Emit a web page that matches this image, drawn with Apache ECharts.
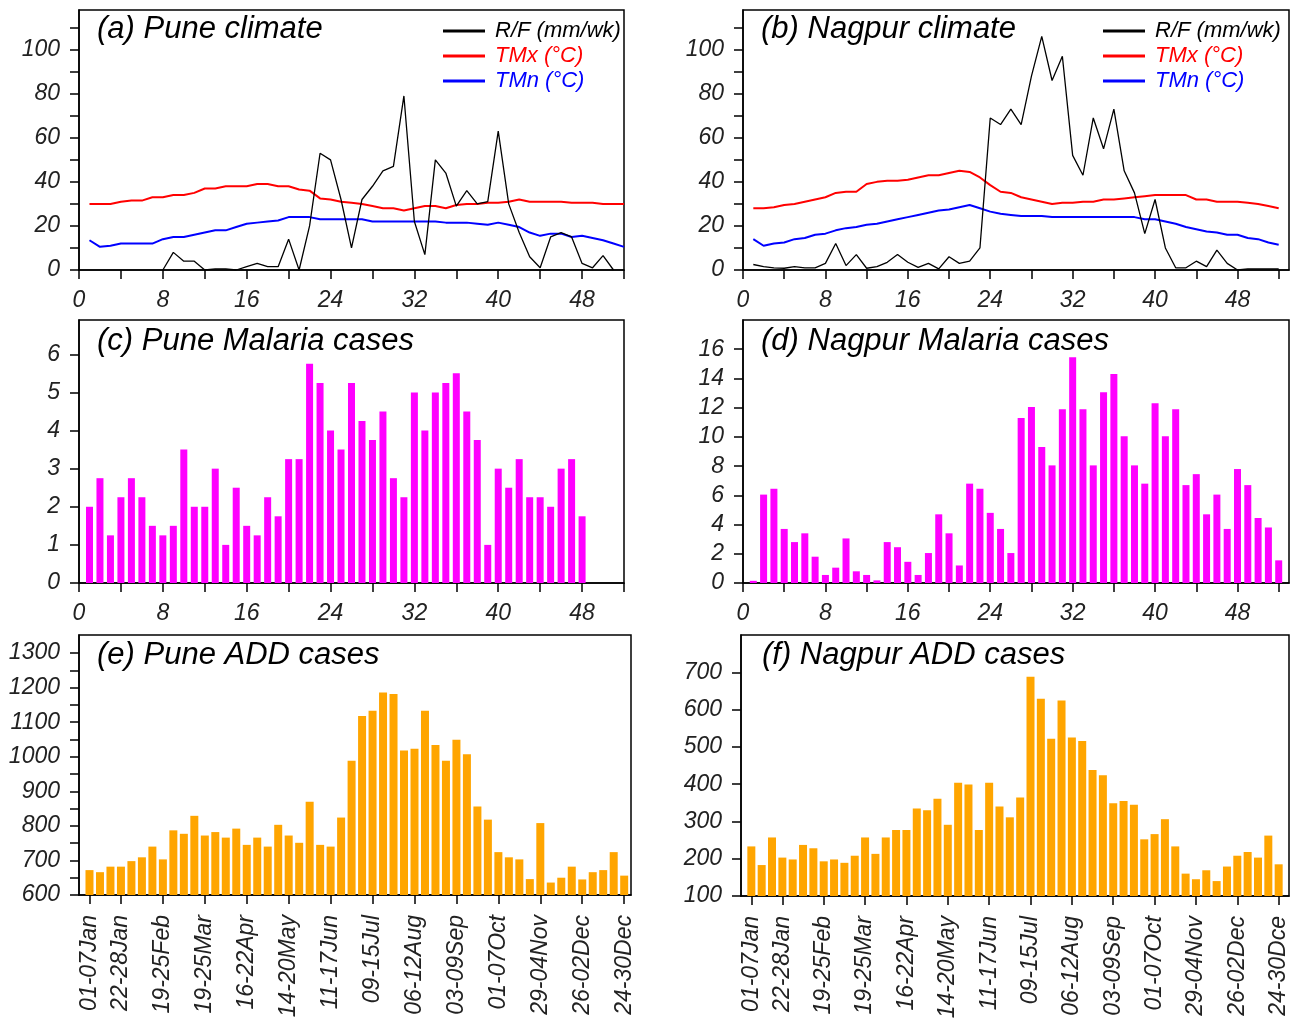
<!DOCTYPE html>
<html>
<head>
<meta charset="utf-8">
<script src="https://cdn.jsdelivr.net/npm/echarts@6/dist/echarts.min.js"></script>
<style>
  html, body { margin: 0; padding: 0; background: #fff; }
  #chart { width: 1308px; height: 1023px; }
</style>
</head>
<body>
<div id="chart"></div>
<script>
// Week numbers of the year (x positions of every mark)
const weeks = Array.from({ length: 52 }, (_, i) => i + 1);

// Weekly rainfall (mm/wk) and temperatures (°C)
const rainPune = [null, null, null, null, null, null, null, 0, 8, 4, 4, 0, 0.5, 0.5, 0, 1.5, 3, 1.5, 1.5, 14,
  0, 20, 53, 50, 32, 10, 32, 38, 45, 47, 79, 22, 7, 50, 44, 29, 36, 30, 31, 63,
  30, 17, 6, 1, 15, 17, 15, 3, 1, 6.5, 0, null];
const tmxPune = [30, 30, 30, 31, 31.5, 31.5, 33, 33, 34, 34, 35, 37, 37, 38, 38, 38, 39, 39, 38, 38,
  36.5, 36, 32.5, 32, 31, 30.5, 30, 29, 28, 28, 27, 28, 29, 29, 28, 29.5, 30, 30, 30.5, 30.5,
  31, 32, 31, 31, 31, 31, 30.5, 30.5, 30.5, 30, 30, 30];
const tmnPune = [13.5, 10.5, 11, 12, 12, 12, 12, 14, 15, 15, 16, 17, 18, 18, 19.5, 21, 21.5, 22, 22.5, 24,
  24, 24, 23, 23, 23, 23, 23, 22, 22, 22, 22, 22, 22, 22, 21.5, 21.5, 21.5, 21, 20.5, 21.5,
  20.5, 19.5, 17, 15.5, 16.5, 16.5, 15, 15.5, 14.5, 13.5, 12, 10.5];

const rainNagpur = [2.5, 1.5, 1, 0.8, 1.5, 1, 1, 3, 12, 2, 7, 0.8, 1.5, 3.5, 7, 3.5, 1.2, 3, 0.5, 6,
  3, 4, 10, 69, 66, 73, 66, 88, 106, 86, 97, 52, 43, 69, 55, 73, 45, 35, 16.5, 32,
  10, 1, 1, 4, 1.5, 9, 3, 0, 0.5, 0.5, 0.5, 0.5];
const tmxNagpur = [28, 28, 28.5, 29.5, 30, 31, 32, 33, 35, 35.5, 35.5, 39, 40, 40.5, 40.5, 41, 42, 43, 43, 44,
  45, 44.5, 42, 38.5, 35.5, 35, 33, 32, 31, 30, 30.5, 30.5, 31, 31, 32, 32, 32.5, 33, 33.5, 34,
  34, 34, 34, 32, 32, 31, 31, 31, 30.5, 30, 29, 28];
const tmnNagpur = [14, 11, 12, 12.5, 14, 14.5, 16, 16.5, 18, 19, 19.5, 20.5, 21, 22, 23, 24, 25, 26, 27, 27.5,
  28.5, 29.5, 28, 26.5, 25.5, 25, 24.5, 24.5, 24.5, 24, 24, 24, 24, 24, 24, 24, 24, 24, 23, 23,
  22, 21, 19.5, 18.5, 17.5, 17, 16, 16, 14.5, 14, 12.5, 11.5];

// Weekly malaria cases
const malariaPune = [2, 2.75, 1.25, 2.25, 2.75, 2.25, 1.5, 1.25, 1.5, 3.5, 2, 2, 3, 1, 2.5, 1.5, 1.25, 2.25, 1.75, 3.25,
  3.25, 5.75, 5.25, 4, 3.5, 5.25, 4.25, 3.75, 4.5, 2.75, 2.25, 5, 4, 5, 5.25, 5.5, 4.5, 3.75, 1, 3,
  2.5, 3.25, 2.25, 2.25, 2, 3, 3.25, 1.75];
const malariaNagpur = [0.15, 6.05, 6.45, 3.7, 2.8, 3.4, 1.8, 0.55, 1.05, 3.05, 0.8, 0.55, 0.18, 2.8, 2.45, 1.45, 0.55, 2.05, 4.7, 3.4,
  1.2, 6.8, 6.45, 4.8, 3.7, 2.05, 11.3, 12.05, 9.3, 8.05, 11.9, 15.45, 11.9, 8.05, 13.05, 14.3, 10.05, 8.05, 6.8, 12.3,
  10.05, 11.9, 6.7, 7.45, 4.7, 6.05, 3.7, 7.8, 6.7, 4.45, 3.8, 1.55];

// Weekly acute diarrhoeal disease (ADD) cases
const addPune = [672, 666, 682, 682, 698, 709, 740, 703, 787, 777, 829, 772, 782, 766, 792, 745, 766, 740, 803, 772,
  751, 870, 745, 740, 824, 988, 1118, 1133, 1186, 1181, 1018, 1023, 1133, 1034, 988, 1049, 1007, 856, 818, 724,
  709, 703, 646, 808, 636, 650, 682, 645, 666, 672, 724, 656];
const addNagpur = [233, 183, 257, 203, 198, 237, 228, 193, 198, 189, 208, 257, 213, 257, 277, 277, 335, 330, 361, 291,
  404, 399, 277, 404, 340, 311, 364, 688, 629, 522, 624, 525, 516, 438, 424, 349, 355, 345, 252, 266,
  306, 233, 160, 145, 169, 140, 179, 208, 218, 203, 262, 185];

// Date labels for the ADD panels
const dateWeeks = [1, 4, 8, 12, 16, 20, 24, 28, 32, 36, 40, 44, 48, 52];
const datesPune = ['01-07Jan', '22-28Jan', '19-25Feb', '19-25Mar', '16-22Apr', '14-20May', '11-17Jun',
  '09-15Jul', '06-12Aug', '03-09Sep', '01-07Oct', '29-04Nov', '26-02Dec', '24-30Dec'];
const datesNagpur = ['01-07Jan', '22-28Jan', '19-25Feb', '19-25Mar', '16-22Apr', '14-20May', '11-17Jun',
  '09-15Jul', '06-12Aug', '03-09Sep', '01-07Oct', '29-04Nov', '26-02Dec', '24-30Dce'];

// Axis tick / label values
const weekTicks = [0, 4, 8, 12, 16, 20, 24, 28, 32, 36, 40, 44, 48, 52];
const weekLabels = [0, 8, 16, 24, 32, 40, 48];
const climTicks = [0, 10, 20, 30, 40, 50, 60, 70, 80, 90, 100, 110];
const climLabels = [0, 20, 40, 60, 80, 100];
const malPuneTicks = [0, 1, 2, 3, 4, 5, 6];
const malNagTicks = [0, 2, 4, 6, 8, 10, 12, 14, 16];
const addPuneTicks = [600, 650, 700, 750, 800, 850, 900, 950, 1000, 1050, 1100, 1150, 1200, 1250, 1300];
const addPuneLabels = [600, 700, 800, 900, 1000, 1100, 1200, 1300];
const addNagTicks = [100, 200, 300, 400, 500, 600, 700];

const LEG_RAIN = 'R/F (mm/wk)', LEG_TMX = 'TMx (°C)', LEG_TMN = 'TMn (°C)';

const FONT = 'Liberation Sans';
const labelStyle = { fontFamily: FONT, fontStyle: 'italic', fontSize: 23, color: '#222' };
const pairs = arr => arr.map((v, i) => [weeks[i], v]);

function grid(left, top, width, height) {
  return { left, top, width, height, show: true, borderColor: '#000', borderWidth: 1.5, containLabel: false };
}

function xAxis(gridIndex, max, ticks, labels, extra) {
  return Object.assign({
    type: 'value', gridIndex, min: 0, max,
    axisLine: { show: true, onZero: false, lineStyle: { color: '#000', width: 1.5 } },
    axisTick: { show: true, length: 9, customValues: ticks, lineStyle: { color: '#000', width: 1.5 } },
    axisLabel: Object.assign({ customValues: labels, margin: 19, formatter: v => String(v) }, labelStyle),
    splitLine: { show: false }
  }, extra || {});
}

function yAxis(gridIndex, min, max, ticks, labels) {
  return {
    type: 'value', gridIndex, min, max,
    axisLine: { show: true, onZero: false, lineStyle: { color: '#000', width: 1.5 } },
    axisTick: { show: true, length: 9, customValues: ticks, lineStyle: { color: '#000', width: 1.5 } },
    axisLabel: Object.assign({ customValues: labels, margin: 19, formatter: v => String(v) }, labelStyle),
    splitLine: { show: false }
  };
}

function dateAxis(gridIndex, max, names) {
  return xAxis(gridIndex, max, dateWeeks, dateWeeks, {
    axisLabel: Object.assign({
      customValues: dateWeeks, margin: 20, rotate: 90,
      formatter: v => names[dateWeeks.indexOf(v)] || ''
    }, labelStyle)
  });
}

function line(name, data, color, width, idx) {
  return {
    type: 'line', name, data: pairs(data), xAxisIndex: idx, yAxisIndex: idx,
    symbol: 'none', connectNulls: false, color,
    lineStyle: { color, width }, animation: false
  };
}

function bars(data, color, width, idx) {
  return {
    type: 'bar', data: pairs(data), xAxisIndex: idx, yAxisIndex: idx,
    barWidth: width, itemStyle: { color }, clip: true, animation: false
  };
}

function panelTitle(text, left, top) {
  return {
    text, left, top, padding: 0,
    textStyle: { fontFamily: FONT, fontStyle: 'italic', fontWeight: 'normal', fontSize: 31, color: '#000' }
  };
}

function legend(left, top) {
  return {
    orient: 'vertical', left, top, icon: 'rect', itemWidth: 42, itemHeight: 3, itemGap: 3,
    padding: 0, selectedMode: false,
    textStyle: { fontFamily: FONT, fontStyle: 'italic', fontSize: 22, padding: [0, 0, 0, 5] },
    data: [
      { name: LEG_RAIN, textStyle: { color: '#000' } },
      { name: LEG_TMX, textStyle: { color: '#ff0000' } },
      { name: LEG_TMN, textStyle: { color: '#0000ff' } }
    ]
  };
}

const option = {
  backgroundColor: '#fff',
  animation: false,
  title: [
    panelTitle('(a) Pune climate', 97, 14),
    panelTitle('(b) Nagpur climate', 761, 14),
    panelTitle('(c) Pune Malaria cases', 97, 326),
    panelTitle('(d) Nagpur Malaria cases', 761, 326),
    panelTitle('(e) Pune ADD cases', 97, 640),
    panelTitle('(f) Nagpur ADD cases', 762, 640)
  ],
  legend: [legend(443, 20), legend(1103, 20)],
  grid: [
    grid(79, 10, 545, 260),
    grid(743, 10, 546, 260),
    grid(79, 320, 545, 263),
    grid(743, 320, 546, 263),
    grid(79, 635, 552, 260),
    grid(741, 635, 548, 261)
  ],
  xAxis: [
    xAxis(0, 52, weekTicks, weekLabels),
    xAxis(1, 53, weekTicks, weekLabels),
    xAxis(2, 52, weekTicks, weekLabels),
    xAxis(3, 53, weekTicks, weekLabels),
    dateAxis(4, 52.65, datesPune),
    dateAxis(5, 53, datesNagpur)
  ],
  yAxis: [
    yAxis(0, 0, 118, climTicks, climLabels),
    yAxis(1, 0, 118, climTicks, climLabels),
    yAxis(2, 0, 6.9, malPuneTicks, malPuneTicks),
    yAxis(3, 0, 18, malNagTicks, malNagTicks),
    yAxis(4, 600, 1352, addPuneTicks, addPuneLabels),
    yAxis(5, 100, 800, addNagTicks, addNagTicks)
  ],
  series: [
    line(LEG_TMX, tmxPune, '#ff0000', 2, 0),
    line(LEG_TMN, tmnPune, '#0000ff', 2, 0),
    line(LEG_RAIN, rainPune, '#000000', 1.3, 0),
    line(LEG_TMX, tmxNagpur, '#ff0000', 2, 1),
    line(LEG_TMN, tmnNagpur, '#0000ff', 2, 1),
    line(LEG_RAIN, rainNagpur, '#000000', 1.3, 1),
    bars(malariaPune, '#ff00ff', 7, 2),
    bars(malariaNagpur, '#ff00ff', 7, 3),
    bars(addPune, '#ffa500', 8, 4),
    bars(addNagpur, '#ffa500', 8, 5)
  ]
};

const chart = echarts.init(document.getElementById('chart'), null, { renderer: 'canvas' });
chart.setOption(option);
</script>
</body>
</html>
